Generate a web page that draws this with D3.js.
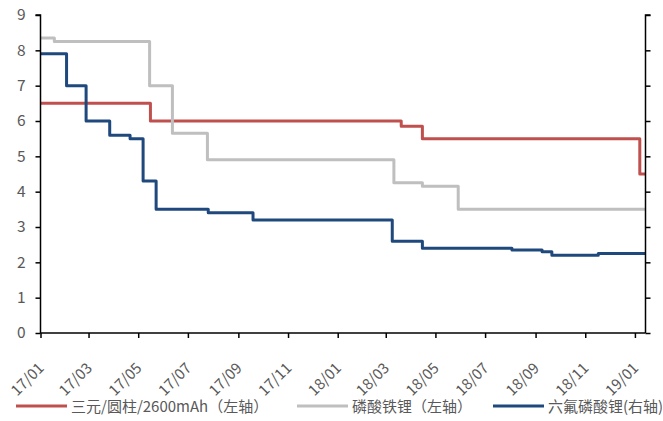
<!DOCTYPE html>
<html><head><meta charset="utf-8">
<script src="https://cdn.jsdelivr.net/npm/d3@7"></script>
<style>
html,body{margin:0;padding:0;background:#fff;}
svg{display:block;font-family:"Noto Sans CJK SC","Noto Sans",sans-serif;}
</style></head>
<body><svg id="c" width="663" height="421"></svg>
<script>
// ---- data ----
const seriesNames = ["三元/圆柱/2600mAh（左轴）", "磷酸铁锂（左轴）", "六氟磷酸锂(右轴)"];
const endDate = "2019-01-14";
const ncmDates = ["2017-01-01","2017-05-16","2018-03-20","2018-04-15","2019-01-07"];
const ncmValues = [6.5, 6.0, 5.85, 5.5, 4.5];
const lfpDates = ["2017-01-01","2017-01-18","2017-05-15","2017-06-12","2017-07-25","2018-03-11","2018-04-15","2018-05-29"];
const lfpValues = [8.35, 8.25, 7.0, 5.65, 4.9, 4.25, 4.15, 3.5];
const lipf6Dates = ["2017-01-01","2017-02-02","2017-02-26","2017-03-27","2017-04-21","2017-05-07","2017-05-23","2017-07-26","2017-09-19","2018-03-09","2018-04-15","2018-08-03","2018-09-09","2018-09-21","2018-11-17"];
const lipf6Values = [7.9, 7.0, 6.0, 5.6, 5.5, 4.3, 3.5, 3.4, 3.2, 2.6, 2.4, 2.35, 2.3, 2.2, 2.25];
const leftTicks = [0,1,2,3,4,5,6,7,8,9];
const xTickDates = ["2017-01-01","2017-03-01","2017-05-01","2017-07-01","2017-09-01","2017-11-01","2018-01-01","2018-03-01","2018-05-01","2018-07-01","2018-09-01","2018-11-01","2019-01-01"];
const colors = ["#C0504D", "#BFBFBF", "#1F497D"];

// ---- chart ----
const parse = d3.utcParse("%Y-%m-%d");
const svg = d3.select("#c");
const L = 40.5, R = 645.5, T = 15, B = 333;
const x = d3.scaleUtc().domain([parse("2017-01-01"), parse(endDate)]).range([L, R]);
const yL = d3.scaleLinear().domain([0, 9]).range([B, T]);
const yR = d3.scaleLinear().domain([0, 9]).range([B, T]);

function build(dates, vals){
  const pts = dates.map((d,i)=>({d:parse(d), v:vals[i]}));
  pts.push({d:parse(endDate), v:vals[vals.length-1]});
  return pts;
}
const series = [
  {pts: build(ncmDates, ncmValues), y: yL, c: colors[0]},
  {pts: build(lfpDates, lfpValues), y: yL, c: colors[1]},
  {pts: build(lipf6Dates, lipf6Values), y: yR, c: colors[2]}
];
series.forEach(s=>{
  const line = d3.line().x(p=>x(p.d)).y(p=>s.y(p.v)).curve(d3.curveStepAfter);
  svg.append("path").datum(s.pts).attr("d", line)
    .attr("fill","none").attr("stroke", s.c).attr("stroke-width", 3)
    .attr("stroke-linejoin","round");
});

// axes
const axL = svg.append("g").attr("transform",`translate(${L},0)`)
  .call(d3.axisLeft(yL).tickValues(leftTicks).tickSize(5).tickPadding(10).tickFormat(d3.format("d")));
axL.select(".domain").attr("d", `M-5,${T}H0V${B}`);
axL.selectAll("text").attr("font-size", 15.5).attr("fill", "#595959").attr("font-family","Noto Sans CJK SC");

const axR = svg.append("g").attr("transform",`translate(${R},0)`)
  .call(d3.axisRight(yR).tickValues(leftTicks).tickSize(5).tickFormat(""));
axR.select(".domain").attr("d", `M5,${T}H0V${B}`);

const axB = svg.append("g").attr("transform",`translate(0,${B})`)
  .call(d3.axisBottom(x).tickValues(xTickDates.map(parse)).tickSize(5).tickFormat(d3.utcFormat("%y/%m")));
axB.select(".domain").attr("d", `M${L},0H${R}`);
axB.selectAll("text")
  .attr("font-size", 15).attr("fill", "#595959").attr("font-family","Noto Sans CJK SC")
  .attr("text-anchor","end").attr("dy", null).attr("y", null)
  .attr("transform","translate(4,36) rotate(-45)");
svg.selectAll(".domain, .tick line").attr("stroke","#000").attr("stroke-width",1.5);

// legend
const legX = [16, 297, 493];
const lg = svg.append("g");
seriesNames.forEach((n,i)=>{
  lg.append("line").attr("x1", legX[i]).attr("x2", legX[i]+51).attr("y1", 406).attr("y2", 406)
    .attr("stroke", colors[i]).attr("stroke-width", 3);
  lg.append("text").attr("x", legX[i]+55).attr("y", 411.5).attr("font-size", 15)
    .attr("fill", "#595959").text(n);
});
</script></body></html>
